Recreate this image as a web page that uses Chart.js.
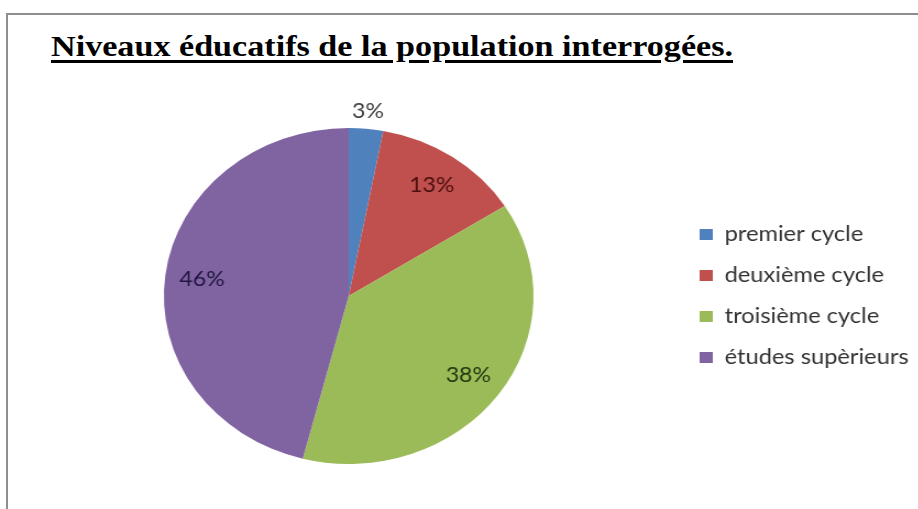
<!DOCTYPE html>
<html>
<head>
<meta charset="utf-8">
<script src="https://cdn.jsdelivr.net/npm/chart.js@4"></script>
<style>
  html, body { margin: 0; padding: 0; background: #fff; }
  body { width: 918px; height: 509px; position: relative; overflow: hidden; }
  #frame { position: absolute; left: 6px; top: 13px; width: 930px; height: 520px;
           border-top: 2px solid #8e8e8e; border-left: 2px solid #8e8e8e; }
  #title { position: absolute; left: 51px; top: 30px; margin: 0; white-space: nowrap; line-height: 1.15;
           font: bold 29px "Liberation Serif", "DejaVu Serif", serif; color: #000;
           text-decoration: underline; text-decoration-thickness: 2.5px; text-underline-offset: 4px;
           transform-origin: 0 0; }
  #wrap { position: absolute; left: 0; top: 0; width: 850px; height: 509px;
          transform: scaleX(1.1); transform-origin: 0 0; }
</style>
</head>
<body>
<div id="frame"></div>
<h1 id="title">Niveaux éducatifs de la population interrogées.</h1>
<div id="wrap"><canvas id="pie"></canvas></div>
<script>
// données
const labels = ['premier cycle', 'deuxième cycle', 'troisième cycle', 'études supèrieurs'];
const values = [3, 13, 38, 46];
const colors = ['#4f81bd', '#c0504d', '#9bbb59', '#8064a2'];
const labelColors = ['#404040', '#4a1010', '#25380f', '#221640'];

// titre : largeur comme dans l'original
const t = document.getElementById('title');
t.style.transform = `scaleX(${682 / t.getBoundingClientRect().width})`;

// étiquettes % (petites parts à l'extérieur)
const pctLabels = {
  id: 'pctLabels',
  afterDatasetsDraw(chart){
    const ctx = chart.ctx;
    const total = values.reduce((a, b) => a + b, 0);
    ctx.save();
    ctx.font = '21px Lato, "Open Sans", sans-serif';
    ctx.textAlign = 'center';
    ctx.textBaseline = 'middle';
    chart.getDatasetMeta(0).data.forEach((arc, i) => {
      const p = arc.getProps(['x', 'y', 'startAngle', 'endAngle', 'outerRadius'], true);
      const mid = (p.startAngle + p.endAngle) / 2;
      const share = values[i] / total;
      const r = share < 0.05 ? p.outerRadius + 18 : p.outerRadius * 0.8;
      ctx.fillStyle = labelColors[i];
      ctx.fillText(Math.round(share * 100) + '%', p.x + Math.cos(mid) * r, p.y + Math.sin(mid) * r);
    });
    ctx.restore();
  }
};

new Chart(document.getElementById('pie'), {
  type: 'pie',
  data: {
    labels,
    datasets: [{ data: values, backgroundColor: colors, borderWidth: 0 }]
  },
  options: {
    responsive: true,
    maintainAspectRatio: false,
    animation: false,
    layout: { padding: { top: 128, bottom: 45, left: 17.5, right: 14 } },
    plugins: {
      title: { display: false },
      tooltip: { enabled: false },
      legend: {
        position: 'right',
        labels: {
          boxWidth: 12, boxHeight: 11, padding: 19.5,
          color: '#333',
          font: { family: 'Lato, "Open Sans", sans-serif', size: 21.5 }
        }
      }
    }
  },
  plugins: [pctLabels]
});
</script>
</body>
</html>
